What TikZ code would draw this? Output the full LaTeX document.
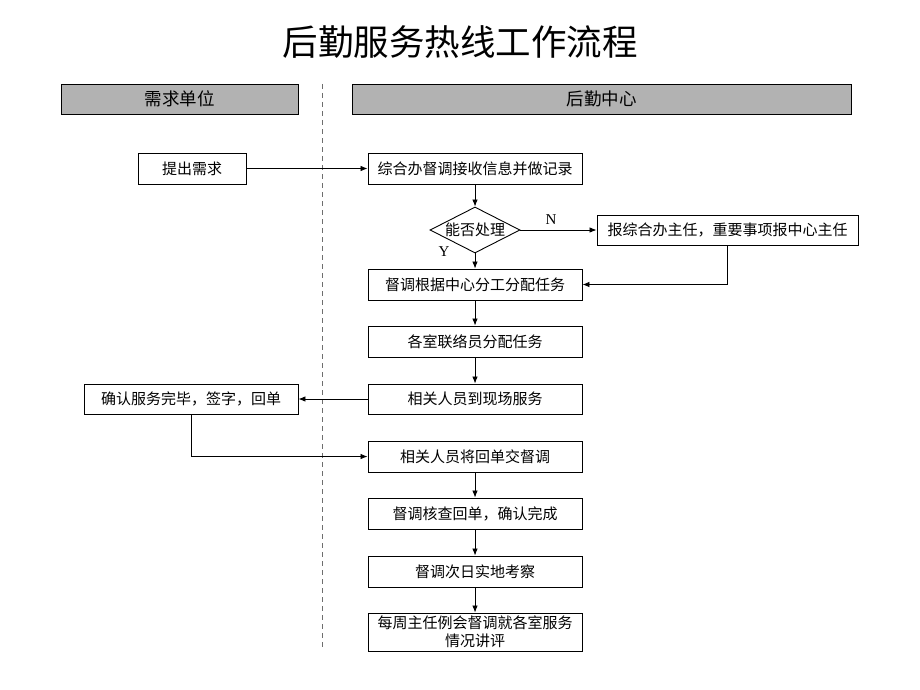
\documentclass[tikz,border=0pt]{standalone}
\usepackage{fontspec}
\setmainfont{Liberation Serif}
\newfontfamily\cjk{Noto Sans CJK SC}
\usetikzlibrary{shapes.geometric,arrows.meta}
\definecolor{headgray}{RGB}{178,178,178}
\definecolor{dashgray}{RGB}{110,110,110}
\tikzset{
  stepbox/.style={draw, line width=0.9pt, minimum width=214pt, minimum height=31pt,
    inner sep=0pt, font=\cjk\fontsize{15}{18}\selectfont},
  headbox/.style={draw, fill=headgray, line width=0.9pt, minimum height=30pt,
    inner sep=0pt, font=\cjk\fontsize{17.5}{18}\selectfont},
  decide/.style={draw, diamond, aspect=2, inner sep=0pt, line width=0.9pt,
    minimum width=90pt, minimum height=46pt, font=\cjk\fontsize{15}{18}\selectfont},
  flow/.style={-{Latex[length=7pt,width=5.5pt]}, line width=0.8pt},
  yn/.style={font=\fontsize{15}{15}\selectfont, inner sep=0pt},
}
\begin{document}
\begin{tikzpicture}[x=1pt, y=-1pt]
    \useasboundingbox (0,0) rectangle (920,690);

    \node[font=\cjk\fontsize{35.5}{38}\selectfont] (title) at (460, 42) {后勤服务热线工作流程};

    % swimlane heads
    \node[headbox, minimum width=237pt] (hleft) at (179.5, 99) {需求单位};
    \node[headbox, minimum width=499pt] (hright) at (601.5, 99) {后勤中心};

    \coordinate (dtop) at (322, 84);
    \coordinate (dbot) at (322, 648);
    \draw[dashgray, line width=1pt, dash pattern=on 5pt off 4pt] (dtop) -- (dbot);

    % steps
    \node[stepbox, minimum width=108pt] (ask) at (192, 168.5) {提出需求};
    \node[stepbox] (s1) at (475, 168.5) {综合办督调接收信息并做记录};
    \node[decide] (dec) at (475, 230) {能否处理};
    \node[stepbox, minimum width=261pt, minimum height=30pt] (rep) at (727.5, 230) {报综合办主任，重要事项报中心主任};
    \node[stepbox] (s2) at (475, 284.5) {督调根据中心分工分配任务};
    \node[stepbox] (s3) at (475, 341.5) {各室联络员分配任务};
    \node[stepbox, minimum height=30pt] (s4) at (475, 399) {相关人员到现场服务};
    \node[stepbox, minimum height=30pt] (conf) at (191, 399) {确认服务完毕，签字，回单};
    \node[stepbox] (s5) at (475, 456.5) {相关人员将回单交督调};
    \node[stepbox] (s6) at (475, 513.5) {督调核查回单，确认完成};
    \node[stepbox] (s7) at (475, 571.5) {督调次日实地考察};
    \node[stepbox, minimum height=38pt, align=center] (s8) at (475, 632) {每周主任例会督调就各室服务\\情况讲评};

    \node[yn] (nlab) at (551, 220) {N};
    \node[yn] (ylab) at (444, 252) {Y};

    % connectors
    \draw[flow] (ask) -- (s1);
    \draw[flow] (s1) -- (dec);
    \draw[flow] (dec.east) -- (rep.west);
    \draw[flow] (dec.south) -- (s2.north);
    \draw[flow] (rep.south) |- (s2.east);
    \draw[flow] (s2) -- (s3);
    \draw[flow] (s3) -- (s4);
    \draw[flow] (s4) -- (conf);
    \draw[flow] (conf.south) |- (s5.west);
    \draw[flow] (s5) -- (s6);
    \draw[flow] (s6) -- (s7);
    \draw[flow] (s7) -- (s8);

  \end{tikzpicture}
\end{document}
